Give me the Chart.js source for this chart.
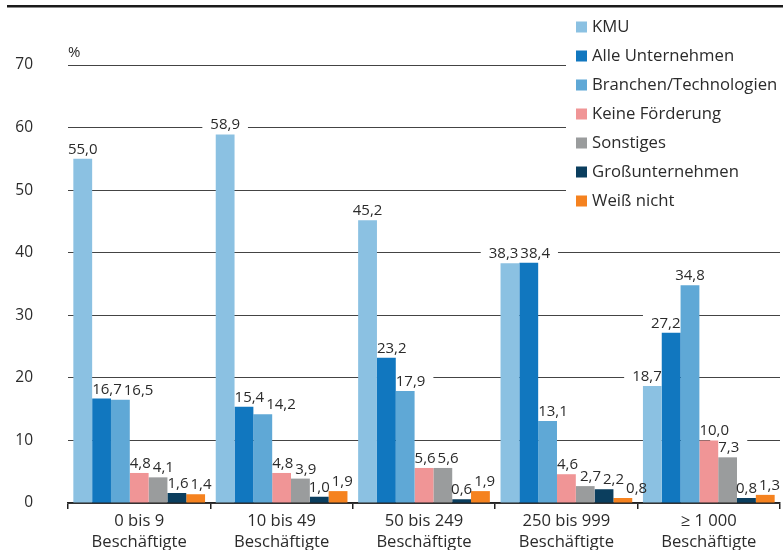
<!DOCTYPE html>
<html lang="de">
<head>
<meta charset="utf-8">
<title>Förderung nach Unternehmensgröße</title>
<script src="https://cdn.jsdelivr.net/npm/chart.js@4.4.1/dist/chart.umd.min.js"></script>
<style>
  html, body { margin: 0; padding: 0; background: #fff; }
  #wrap { width: 783px; height: 550px; position: relative; }
</style>
</head>
<body>
<div id="wrap"><canvas id="chart" width="783" height="550"></canvas></div>
<script>
// Size classes (two-line axis labels)
const categories = [
  ['0 bis 9', 'Beschäftigte'],
  ['10 bis 49', 'Beschäftigte'],
  ['50 bis 249', 'Beschäftigte'],
  ['250 bis 999', 'Beschäftigte'],
  ['≥ 1 000', 'Beschäftigte']
];

// Series names, in bar order
const seriesNames = ['KMU', 'Alle Unternehmen', 'Branchen/Technologien', 'Keine Förderung',
                     'Sonstiges', 'Großunternehmen', 'Weiß nicht'];

// Shares in percent per size class
const kmu              = [55.0, 58.9, 45.2, 38.3, 18.7];
const alleUnternehmen  = [16.7, 15.4, 23.2, 38.4, 27.2];
const branchenTechno   = [16.5, 14.2, 17.9, 13.1, 34.8];
const keineFoerderung  = [4.8, 4.8, 5.6, 4.6, 10.0];
const sonstiges        = [4.1, 3.9, 5.6, 2.7, 7.3];
const grossunternehmen = [1.6, 1.0, 0.6, 2.2, 0.8];
const weissNicht       = [1.4, 1.9, 1.9, 0.8, 1.3];

// Value-axis ticks
const yTicks = [0, 10, 20, 30, 40, 50, 60, 70];

const seriesValues = [kmu, alleUnternehmen, branchenTechno, keineFoerderung,
                      sonstiges, grossunternehmen, weissNicht];
const seriesColors = ['#8bc1e2', '#1177bf', '#5fa8d6', '#f09596', '#9a9c9d', '#0b3e5e', '#f5821f'];

const FONT = '"Open Sans", "Noto Sans", sans-serif';
const TEXT = '#2b2b2b';
const LABEL_FONT = '15px ' + FONT;
const fmt = v => v.toFixed(1).replace('.', ',');

// Value labels above the bars: white backdrop behind the text, nudged sideways
// so they neither run into taller neighbouring bars nor into each other.
const valueLabels = {
  id: 'valueLabels',
  beforeDatasetsDraw(chart) {
    const ctx = chart.ctx;
    ctx.save();
    ctx.font = LABEL_FONT;
    const out = [];
    const nCat = chart.data.labels.length;
    for (let c = 0; c < nCat; c++) {
      const bars = chart.data.datasets.map((ds, i) => {
        const el = chart.getDatasetMeta(i).data[c];
        return { left: el.x - el.width / 2, right: el.x + el.width / 2, top: el.y, x: el.x, v: ds.data[c] };
      });
      const labs = bars.map((b, k) => {
        const text = fmt(b.v);
        const w = ctx.measureText(text).width;
        const base = b.top - 5;
        let lo = -Infinity, hi = Infinity;
        bars.forEach((o, m) => {
          if (m === k) return;
          if (o.top < base + 2) {
            if (m < k) lo = Math.max(lo, o.right); else hi = Math.min(hi, o.left);
          }
        });
        return { text, w, base, lo, hi, x: b.x };
      });
      const clamp = L => {
        if (L.hi - L.lo >= L.w) L.x = Math.min(Math.max(L.x, L.lo + L.w / 2), L.hi - L.w / 2);
        else L.x = (L.lo + L.hi) / 2;
      };
      labs.forEach(clamp);
      for (let it = 0; it < 40; it++) {
        for (let a = 0; a < labs.length; a++) {
          for (let b = a + 1; b < labs.length; b++) {
            const A = labs[a], B = labs[b];
            if (Math.abs(A.base - B.base) >= 12) continue;
            const ov = (A.x + A.w / 2 + 2) - (B.x - B.w / 2);
            if (ov > 0.01) { A.x -= ov / 2; B.x += ov / 2; clamp(A); clamp(B); }
          }
        }
      }
      out.push(...labs);
    }
    ctx.fillStyle = '#ffffff';
    out.forEach(L => ctx.fillRect(L.x - L.w / 2 - 8, L.base - 14, L.w + 16, 16));
    ctx.restore();
    chart.$valueLabels = out;
  },
  afterDatasetsDraw(chart) {
    const ctx = chart.ctx;
    ctx.save();
    ctx.font = LABEL_FONT;
    ctx.fillStyle = TEXT;
    ctx.textAlign = 'center';
    ctx.textBaseline = 'alphabetic';
    (chart.$valueLabels || []).forEach(L => ctx.fillText(L.text, L.x, L.base));
    ctx.restore();
  }
};

// Rule across the top, unit sign and the legend box at the upper right
const frame = {
  id: 'frame',
  afterDraw(chart) {
    const ctx = chart.ctx;
    ctx.save();
    ctx.fillStyle = '#1a1a1a';
    ctx.fillRect(7, 5, 776, 2.5);

    ctx.fillStyle = TEXT;
    ctx.font = '15px ' + FONT;
    ctx.textAlign = 'left';
    ctx.textBaseline = 'alphabetic';
    ctx.fillText('%', 68, 57);

    ctx.fillStyle = '#ffffff';
    ctx.fillRect(566, 12, 217, 204);
    ctx.font = '16.7px ' + FONT;
    ctx.textBaseline = 'middle';
    chart.data.datasets.forEach((ds, i) => {
      const y = 27 + i * 29;
      ctx.fillStyle = ds.backgroundColor;
      ctx.fillRect(576, y - 5.5, 11, 11);
      ctx.fillStyle = TEXT;
      ctx.fillText(ds.label, 592, y);
    });
    ctx.restore();
  }
};

new Chart(document.getElementById('chart'), {
  type: 'bar',
  data: {
    labels: categories,
    datasets: seriesNames.map((name, i) => ({
      label: name,
      data: seriesValues[i],
      backgroundColor: seriesColors[i],
      borderWidth: 0,
      categoryPercentage: 0.925,
      barPercentage: 1.0
    }))
  },
  options: {
    responsive: false,
    animation: false,
    devicePixelRatio: 1,
    layout: { padding: { top: 65, right: 3, left: 0, bottom: 0 } },
    plugins: { legend: { display: false }, tooltip: { enabled: false } },
    scales: {
      x: {
        grid: { display: true, drawOnChartArea: false, drawTicks: true, tickLength: 6,
                color: '#222', lineWidth: 1.5, offset: true },
        border: { display: true, color: '#222', width: 1.5 },
        ticks: { color: TEXT, font: { family: FONT, size: 16.6, lineHeight: 1.26 },
                 padding: 2, maxRotation: 0, autoSkip: false },
        afterFit(s) { s.height = 47; }
      },
      y: {
        min: 0, max: 70,
        afterBuildTicks(s) { s.ticks = yTicks.map(v => ({ value: v })); },
        ticks: { color: TEXT, font: { family: FONT, size: 15.5 }, padding: 35 },
        grid: { color: '#444', lineWidth: 1, drawTicks: false },
        border: { display: false },
        afterFit(s) { s.width = 68; }
      }
    }
  },
  plugins: [valueLabels, frame]
});
</script>
</body>
</html>
